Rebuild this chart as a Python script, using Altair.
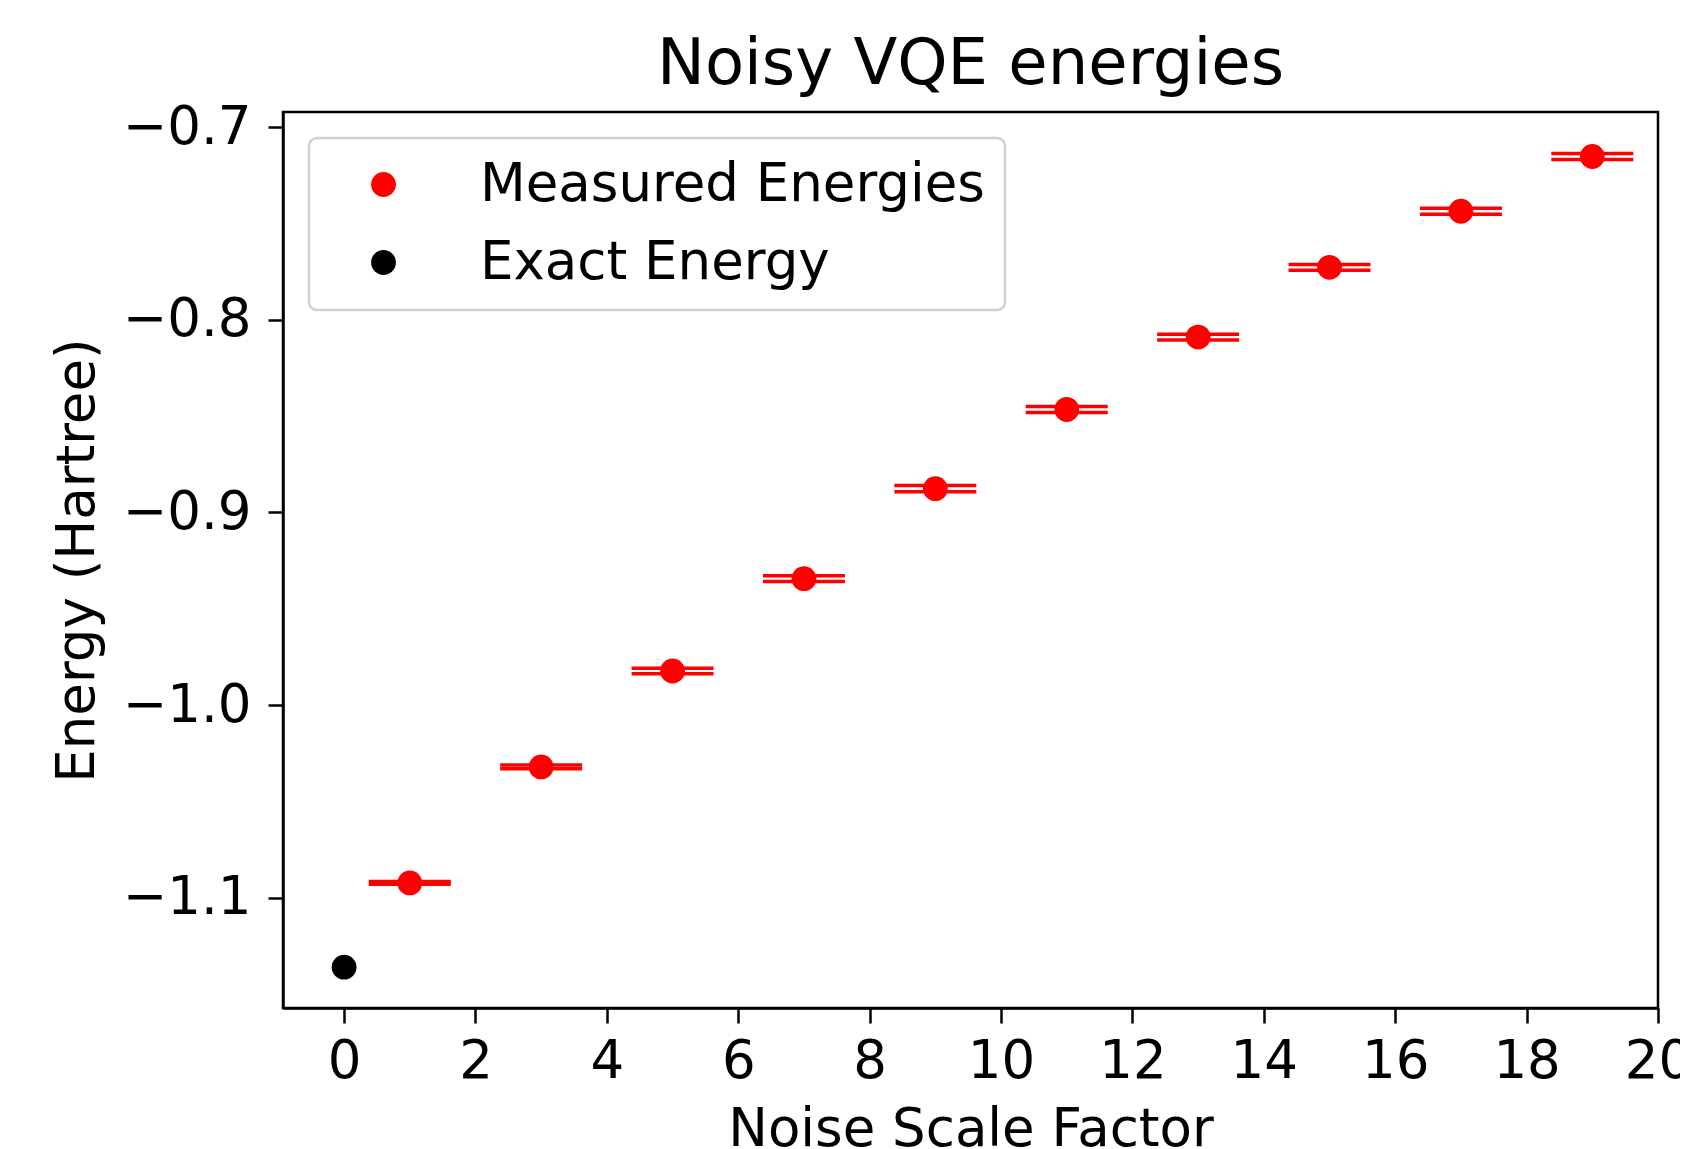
import altair as alt
import pandas as pd

# ---- data ----
noise_factors = [1, 3, 5, 7, 9, 11, 13, 15, 17, 19]
measured_energies = [-1.0923, -1.0321, -0.9823, -0.9344, -0.8877,
                     -0.8466, -0.8090, -0.7728, -0.7437, -0.7153]
measured_errors = [0.0007, 0.0010, 0.0014, 0.0015, 0.0016,
                   0.0015, 0.0015, 0.0015, 0.0016, 0.0015]
exact_noise = [0]
exact_energies = [-1.136]
series_names = ["Measured Energies", "Exact Energy"]
series_colors = ["#ff0000", "#000000"]
x_ticks = [0, 2, 4, 6, 8, 10, 12, 14, 16, 18, 20]
y_ticks = [-1.1, -1.0, -0.9, -0.8, -0.7]

measured = pd.DataFrame({"x": noise_factors, "y": measured_energies,
                         "err": measured_errors, "series": series_names[0]})
measured["lo"] = measured["y"] - measured["err"]
measured["hi"] = measured["y"] + measured["err"]
exact = pd.DataFrame({"x": exact_noise, "y": exact_energies, "series": series_names[1]})

FONT = "DejaVu Sans"
xscale = alt.Scale(domain=[-0.93, 20.0], nice=False, zero=False)
yscale = alt.Scale(domain=[-1.1572, -0.6922], nice=False, zero=False)
xaxis = alt.Axis(title="Noise Scale Factor", values=x_ticks, format="d",
                 labelFlush=False, labelOverlap=False, labelPadding=12, titlePadding=15)
yaxis = alt.Axis(title="Energy (Hartree)", values=y_ticks, format=".1f",
                 labelOverlap=False, labelPadding=17, titlePadding=18)

color = alt.Color("series:N",
                  scale=alt.Scale(domain=series_names, range=series_colors),
                  legend=alt.Legend(title=None, orient="none", legendX=26, legendY=26,
                                    symbolType="circle", symbolSize=615, symbolOpacity=1,
                                    symbolStrokeWidth=0, labelFontSize=53, labelFont=FONT,
                                    labelColor="black", labelLimit=1000,
                                    padding=20, symbolOffset=28, labelOffset=70,
                                    rowPadding=24))

caps_lo = alt.Chart(measured).mark_tick(orient="horizontal", size=82, thickness=3.5,
                                        color="#ff0000", opacity=1).encode(
    x=alt.X("x:Q", scale=xscale, axis=xaxis),
    y=alt.Y("lo:Q", scale=yscale, axis=yaxis))
caps_hi = alt.Chart(measured).mark_tick(orient="horizontal", size=82, thickness=3.5,
                                        color="#ff0000", opacity=1).encode(
    x=alt.X("x:Q", scale=xscale, axis=xaxis),
    y=alt.Y("hi:Q", scale=yscale, axis=yaxis))
pts = alt.Chart(measured).mark_point(filled=True, size=615, opacity=1).encode(
    x=alt.X("x:Q", scale=xscale, axis=xaxis),
    y=alt.Y("y:Q", scale=yscale, axis=yaxis),
    color=color)
exact_pts = alt.Chart(exact).mark_point(filled=True, size=615, opacity=1).encode(
    x=alt.X("x:Q", scale=xscale, axis=xaxis),
    y=alt.Y("y:Q", scale=yscale, axis=yaxis),
    color=color)

chart = alt.layer(caps_lo, caps_hi, pts, exact_pts).properties(
    width=1375, height=896,
    autosize=alt.AutoSizeParams(type="none"),
    padding={"left": 275, "top": 104, "right": 22, "bottom": 150},
    title=alt.Title("Noisy VQE energies", fontSize=64, font=FONT, fontWeight="normal",
                    color="black", anchor="middle", baseline="alphabetic", offset=23,
                    dy=70),
).configure_view(stroke="black", strokeWidth=2.5
).configure_axis(domainColor="black", domainWidth=2.5, tickColor="black", tickWidth=2.5,
                 tickSize=15, labelFont=FONT, labelFontSize=53, labelColor="black",
                 titleFont=FONT, titleFontSize=53, titleFontWeight="normal",
                 titleColor="black", grid=False
).configure_legend(strokeColor="#d0d0d0", strokeWidth=2.5, fillColor="white",
                   cornerRadius=8)

chart.save("out.html", embed_options={"renderer": "svg", "actions": False})
